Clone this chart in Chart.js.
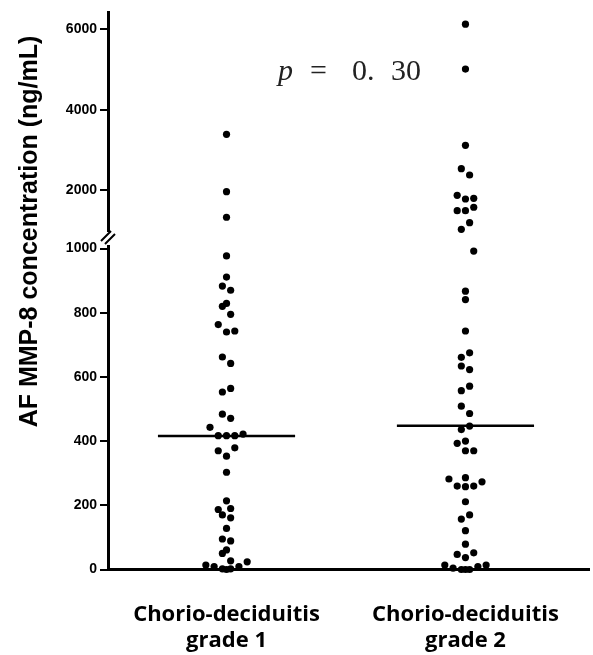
<!DOCTYPE html>
<html><head><meta charset="utf-8">
<script src="https://cdn.jsdelivr.net/npm/chart.js@4"></script>
<style>html,body{margin:0;padding:0;background:#fff}#wrap{width:593px;height:655px;position:relative}</style>
</head><body><div id="wrap"><canvas id="c" width="593" height="655"></canvas></div>
<script>
// ---- data ----
const categories = [["Chorio-deciduitis", "grade 1"], ["Chorio-deciduitis", "grade 2"]];
const g1Values  = [3386, 1958, 1321, 977, 911, 883, 870, 829, 820, 795, 763, 743, 740, 662, 642, 564, 553, 484, 471, 443, 422, 417, 417, 417, 379, 370, 353, 303, 214, 190, 187, 170, 161, 128, 95, 89, 61, 50, 27, 24, 14, 9, 9, 2, 2, 0];
const g1Offsets = [0, 0, 0, 0, 0, -1, 1, 0, -1, 1, -2, 2, 0, -1, 1, 1, -1, -1, 1, -4, 4, -2, 0, 2, 2, -2, 0, 0, 0, 1, -2, -1, 1, 0, -1, 1, 0, -1, 1, 5, -5, -3, 3, -1, 1, 0];
const g2Values  = [6129, 5010, 3112, 2530, 2373, 1868, 1793, 1776, 1570, 1485, 1485, 1187, 1022, 992, 867, 841, 743, 675, 661, 634, 623, 571, 557, 509, 486, 447, 436, 400, 393, 370, 370, 286, 282, 273, 260, 258, 260, 211, 170, 157, 121, 79, 52, 47, 37, 14, 9, 4, 0, 0, 0, 14];
const g2Offsets = [0, 0, 0, -1, 1, -2, 2, 0, 2, -2, 0, 1, -1, 2, 0, 0, 0, 1, -1, -1, 1, 1, -1, -1, 1, 1, -1, 0, -2, 0, 2, 0, -4, 4, -2, 0, 2, 0, 1, -1, 0, 0, 2, -2, 0, -5, 3, -3, -1, 0, 1, 5];
const medians = [416, 448];
const lowerTicks = [0, 200, 400, 600, 800, 1000];
const upperTicks = [2000, 4000, 6000];
const breakValue = 1000;

// ---- build datasets ----
const OFF = 0.0173;   // horizontal step of the dot swarm (x units)
const HALF = 0.287;   // half width of the median bar (x units)
const groups = [[g1Values, g1Offsets], [g2Values, g2Offsets]];
const datasets = [];
groups.forEach(([vals, offs], gi) => {
  const low = [], high = [];
  vals.forEach((v, i) => {
    const p = {x: gi + 1 + offs[i] * OFF, y: v};
    (v > breakValue ? high : low).push(p);
  });
  const common = {type: 'scatter', pointRadius: 3.6, pointBackgroundColor: '#000', pointBorderWidth: 0, clip: false, xAxisID: 'x'};
  datasets.push(Object.assign({data: low, yAxisID: 'yLow'}, common));
  datasets.push(Object.assign({data: high, yAxisID: 'yHigh'}, common));
  datasets.push({type: 'line', data: [{x: gi + 1 - HALF, y: medians[gi]}, {x: gi + 1 + HALF, y: medians[gi]}],
    borderColor: '#000', borderWidth: 2.5, pointRadius: 0, xAxisID: 'x', yAxisID: 'yLow', clip: false});
});

const tickFont = {family: "'Liberation Sans', Arial, sans-serif", size: 14, weight: 'bold'};
function yAxis(min, max, weight, ticks) {
  return {
    type: 'linear', position: 'left', stack: 'y', stackWeight: weight, min: min, max: max,
    afterBuildTicks: s => { s.ticks = ticks.map(v => ({value: v})); },
    grid: {drawOnChartArea: false, drawTicks: true, tickLength: 8, lineWidth: 2, color: '#000'},
    border: {display: true, width: 3, color: '#000'},
    ticks: {font: tickFont, color: '#000', padding: 3, callback: v => String(v)},
    afterFit: s => { s.width = 45; }
  };
}

const extras = {
  id: 'extras',
  afterDraw(chart) {
    const ctx = chart.ctx;
    const yH = chart.scales.yHigh;
    const ax = chart.chartArea.left;
    const yb = yH.bottom;
    // axis break
    ctx.save();
    ctx.fillStyle = '#fff';
    ctx.fillRect(ax - 3, yb - 6, 7, 13);
    ctx.strokeStyle = '#000';
    ctx.lineWidth = 2;
    ctx.beginPath();
    ctx.moveTo(ax - 7, yb + 3); ctx.lineTo(ax + 3, yb - 7);
    ctx.moveTo(ax - 3, yb + 6); ctx.lineTo(ax + 7, yb - 4);
    ctx.stroke();
    ctx.restore();
    // y axis title
    ctx.save();
    ctx.translate(37, 231.5);
    ctx.rotate(-Math.PI / 2);
    ctx.font = "bold 25px 'Liberation Sans', Arial, sans-serif";
    ctx.fillStyle = '#000';
    ctx.textAlign = 'center';
    ctx.textBaseline = 'alphabetic';
    ctx.fillText('AF MMP-8 concentration (ng/mL)', 0, 0);
    ctx.restore();
    // p value
    ctx.save();
    ctx.fillStyle = '#222';
    ctx.textBaseline = 'alphabetic';
    ctx.font = "italic 30px 'Liberation Serif', 'Times New Roman', serif";
    ctx.fillText('p', 278, 80);
    ctx.font = "30px 'Liberation Serif', 'Times New Roman', serif";
    ctx.fillText('=', 310, 80);
    ctx.fillText('0.', 352, 80);
    ctx.fillText('30', 391, 80);
    ctx.restore();
  }
};

new Chart(document.getElementById('c'), {
  type: 'scatter',
  data: {datasets: datasets},
  options: {
    responsive: false, devicePixelRatio: 1, animation: false,
    layout: {padding: {left: 63, right: 2, top: 12, bottom: 0}},
    plugins: {legend: {display: false}, tooltip: {enabled: false}},
    scales: {
      x: {
        type: 'linear', position: 'bottom', min: 0.504, max: 2.517,
        afterBuildTicks: s => { s.ticks = categories.map((c, i) => ({value: i + 1})); },
        grid: {display: false},
        border: {display: true, width: 3, color: '#000'},
        ticks: {font: {family: "'Open Sans', sans-serif", size: 22, weight: 'bold', lineHeight: 1.2}, color: '#000', padding: 24,
          maxRotation: 0, autoSkip: false, callback: (v, i) => categories[i]},
        afterFit: s => { s.height = 85.5; }
      },
      yLow: yAxis(0, 1032.8, 331.5, lowerTicks),
      yHigh: yAxis(805, 6431, 226, upperTicks)
    }
  },
  plugins: [extras]
});
</script></body></html>
